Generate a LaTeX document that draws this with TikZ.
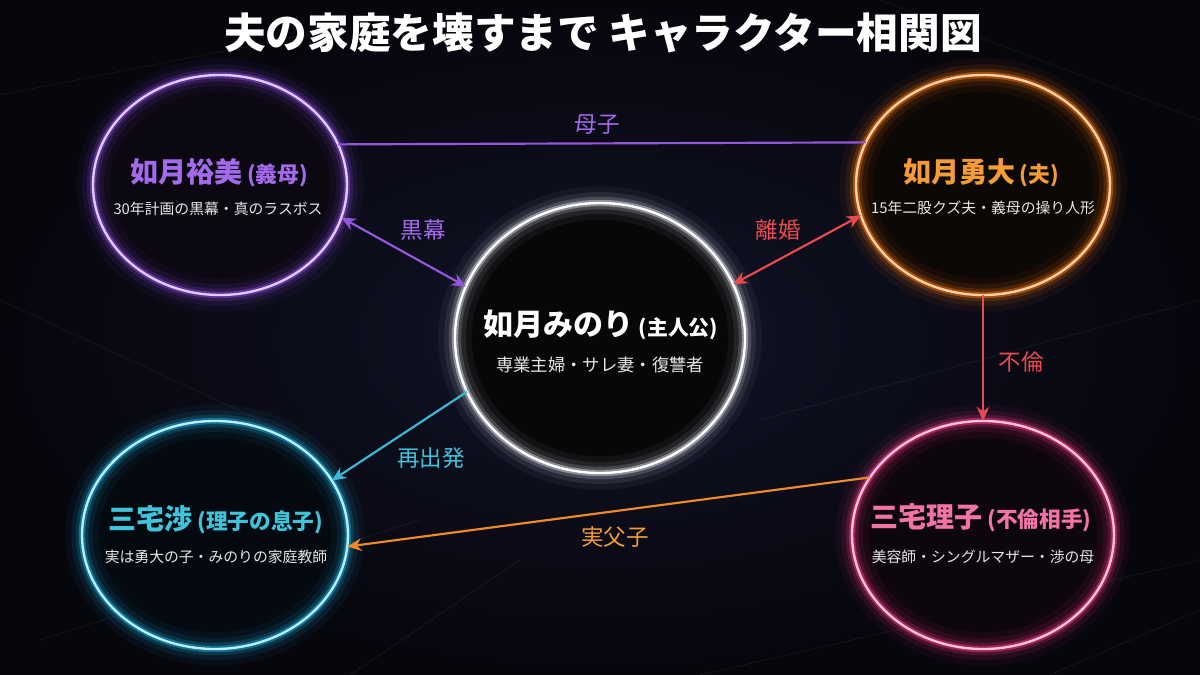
\documentclass[tikz,border=0pt]{standalone}
\usepackage{fontspec}
\setmainfont{Noto Sans CJK JP}
\usetikzlibrary{shapes.geometric,arrows.meta}
\definecolor{bgc}{HTML}{06060D}
\definecolor{bgin}{HTML}{121427}
\definecolor{subc}{HTML}{E6E6E6}
% purple
\definecolor{pcore}{HTML}{E2CCFF}
\definecolor{pglow}{HTML}{8E4FE6}
\definecolor{pfill}{HTML}{0B0812}
\definecolor{ptext}{HTML}{A46AEC}
\definecolor{pline}{HTML}{9456DC}
% orange
\definecolor{ocore}{HTML}{FFD2A6}
\definecolor{oglow}{HTML}{FF7A12}
\definecolor{ofill}{HTML}{0C0806}
\definecolor{otext}{HTML}{F59B38}
\definecolor{oline}{HTML}{EE8A2A}
% white
\definecolor{wcore}{HTML}{FFFFFF}
\definecolor{wglow}{HTML}{E4E4F0}
\definecolor{wfill}{HTML}{070709}
% cyan
\definecolor{ccore}{HTML}{B8F2FF}
\definecolor{cglow}{HTML}{1FB4E6}
\definecolor{cfill}{HTML}{050A11}
\definecolor{ctext}{HTML}{3FC4DC}
\definecolor{cline}{HTML}{3AB8D8}
% pink
\definecolor{kcore}{HTML}{FFC4DA}
\definecolor{kglow}{HTML}{FF3C8C}
\definecolor{kfill}{HTML}{0E060D}
\definecolor{ktext}{HTML}{F273A5}
% red
\definecolor{rline}{HTML}{E84A50}
\tikzset{
  person/.style n args={5}{ellipse, inner sep=0pt, outer sep=0pt,
    minimum width=#1, minimum height=#2, draw=#3, line width=1.4pt,
    preaction={fill=#5},
    preaction={draw=#4, line width=20pt, draw opacity=0.05},
    preaction={draw=#4, line width=13pt, draw opacity=0.09},
    preaction={draw=#4, line width=7.5pt, draw opacity=0.18},
    preaction={draw=#4, line width=3.8pt, draw opacity=0.45}},
  pname/.style={font=\bfseries\fontsize{16.8}{20}\selectfont, inner sep=0pt},
  psub/.style={font=\fontsize{8.9}{11}\selectfont, text=subc, inner sep=0pt},
  elabel/.style={font=\fontsize{13.5}{16}\selectfont, inner sep=0pt},
  link/.style={line width=1.3pt},
  oneway/.style={arrows={-Stealth[length=8.5pt,width=7.5pt]}},
  twoway/.style={arrows={Stealth[length=8.5pt,width=7.5pt]-Stealth[length=8.5pt,width=7.5pt]}},
  scratch/.style={draw=white, line width=0.5pt, draw opacity=0.06},
}
\newcommand{\paren}[1]{\,{\fontsize{13}{15}\selectfont(#1)}}
\begin{document}
\begin{tikzpicture}[x=0.6pt,y=-0.6pt]
\useasboundingbox (0,0) rectangle (1200,675);
\fill[bgc] (0,0) rectangle (1200,675);
\shade[inner color=bgin, outer color=bgc] (0,0) rectangle (1200,675);
% faint background scratches
\draw[scratch] (0,95) -- (330,30);
\draw[scratch] (40,640) -- (420,520);
\draw[scratch] (700,675) -- (1200,560);
\draw[scratch] (880,0) -- (1200,120);
\draw[scratch] (0,300) -- (260,420);
\draw[scratch] (760,420) -- (1200,300);
\draw[scratch] (350,675) -- (520,560);
\draw[scratch] (1050,675) -- (1200,610);

% title
\node[font=\bfseries\fontsize{25}{30}\selectfont, text=white, inner sep=0pt] (title) at (603,33) {夫の家庭を壊すまで キャラクター相関図};

% persons
\node[person={152.4pt}{132pt}{pcore}{pglow}{pfill}] (yumi) at (220,185) {};
\node[person={152.4pt}{132pt}{ocore}{oglow}{ofill}] (yuta) at (983,185) {};
\node[person={174pt}{162pt}{wcore}{wglow}{wfill}] (minori) at (600,338) {};
\node[person={159.6pt}{136.8pt}{ccore}{cglow}{cfill}] (wataru) at (215,535) {};
\node[person={157.2pt}{136.8pt}{kcore}{kglow}{kfill}] (riko) at (983,535) {};

% names and descriptions
\node[pname, text=ptext] (yumiN) at (219,173) {如月裕美\paren{義母}};
\node[psub] (yumiS) at (218,209) {30年計画の黒幕・真のラスボス};
\node[pname, text=otext] (yutaN) at (981,173) {如月勇大\paren{夫}};
\node[psub] (yutaS) at (983,208) {15年二股クズ夫・義母の操り人形};
\node[pname, text=white, font=\bfseries\fontsize{18}{21}\selectfont] (minoriN) at (601,325) {如月みのり\,{\fontsize{12.5}{15}\selectfont(主人公)}};
\node[psub, font=\fontsize{10.4}{13}\selectfont] (minoriS) at (600,365) {専業主婦・サレ妻・復讐者};
\node[pname, text=ctext] (wataruN) at (216,520) {三宅渉\paren{理子の息子}};
\node[psub] (wataruS) at (216,557) {実は勇大の子・みのりの家庭教師};
\node[pname, text=ktext] (rikoN) at (981,518) {三宅理子\paren{不倫相手}};
\node[psub] (rikoS) at (983,557) {美容師・シングルマザー・渉の母};

% connectors
\draw[link, draw=pline] (yumi.19.2) -- (yuta.160.8);
\node[elabel, text=ptext] (lboshi) at (597,125) {母子};

\draw[link, twoway, draw=pline] (yumi.-15) -- (minori.159);
\node[elabel, text=ptext] (lkuro) at (423,230) {黒幕};

\draw[link, twoway, draw=rline] (minori.22) -- (yuta.-166);
\node[elabel, text=rline] (lrikon) at (778,230) {離婚};

\draw[link, oneway, draw=rline] (yuta.south) -- (riko.north);
\node[elabel, text=rline] (lfurin) at (1021,362) {不倫};

\draw[link, oneway, draw=cline] (minori.-158) -- (wataru.25.4);
\node[elabel, text=ctext] (lsai) at (431,458) {再出発};

\draw[link, oneway, draw=oline] (riko.153.4) -- (wataru.-5.4);
\node[elabel, text=otext] (ljitsu) at (615,537) {実父子};
\end{tikzpicture}
\end{document}
